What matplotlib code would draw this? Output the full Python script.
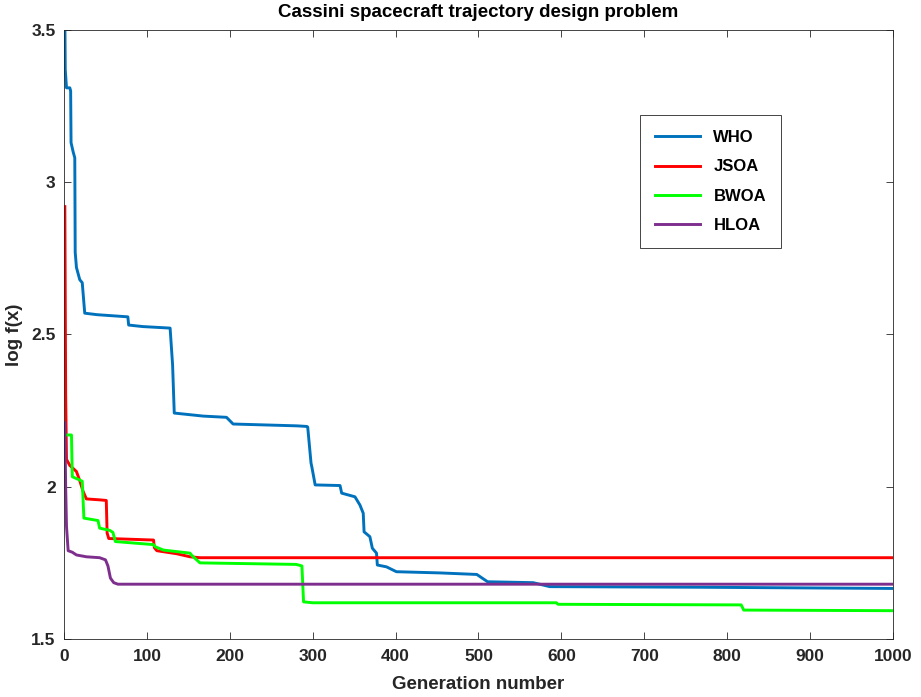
import numpy as np
import matplotlib.pyplot as plt

plt.rcParams['font.family'] = ['Liberation Sans', 'DejaVu Sans']
plt.rcParams['font.weight'] = 'bold'

# WHO
who_x = [1, 1.5, 3, 7, 8, 8.5, 11, 13, 13.5, 15, 19, 22, 25, 40, 77, 78, 95, 128, 131, 133,
         140, 168, 196, 204, 281, 293, 294, 298, 299, 303, 333, 335, 351, 357, 361, 362, 369,
         372, 377, 378, 389, 401, 454, 498, 511, 566, 586, 767, 1000]
who_y = [3.55, 3.37, 3.31, 3.31, 3.30, 3.13, 3.10, 3.08, 2.77, 2.72, 2.68, 2.67, 2.57, 2.565,
         2.558, 2.531, 2.526, 2.521, 2.40, 2.242, 2.240, 2.232, 2.228, 2.206, 2.200, 2.198,
         2.196, 2.078, 2.065, 2.006, 2.004, 1.979, 1.967, 1.940, 1.913, 1.852, 1.836, 1.798,
         1.782, 1.743, 1.737, 1.721, 1.717, 1.712, 1.688, 1.685, 1.672, 1.670, 1.666]

# JSOA
jsoa_x = [1, 2, 3, 7, 11, 15, 19, 23, 27, 43, 51, 52, 54, 108, 109, 112, 136, 152, 164, 1000]
jsoa_y = [2.92, 2.3, 2.09, 2.07, 2.06, 2.05, 2.02, 1.985, 1.96, 1.957, 1.955, 1.848, 1.83,
          1.825, 1.80, 1.79, 1.78, 1.77, 1.767, 1.767]

# BWOA
bwoa_x = [2, 9, 10, 19, 22, 24, 41, 43, 55, 59, 62, 108, 110, 120, 152, 154, 164, 280, 287,
          289, 300, 594, 596, 817, 820, 1000]
bwoa_y = [2.17, 2.17, 2.033, 2.022, 2.018, 1.897, 1.889, 1.864, 1.857, 1.85, 1.82, 1.81, 1.803,
          1.792, 1.782, 1.775, 1.75, 1.745, 1.74, 1.622, 1.619, 1.619, 1.614, 1.612, 1.595, 1.593]

# HLOA
hloa_x = [1, 2, 3, 5, 10, 15, 27, 43, 50, 53, 56, 60, 65, 1000]
hloa_y = [2.21, 2.0, 1.87, 1.79, 1.785, 1.776, 1.77, 1.767, 1.76, 1.74, 1.70, 1.685, 1.68, 1.68]

fig = plt.figure(figsize=(9.21, 6.97), dpi=100)
ax = fig.add_axes([0.0695, 0.0832, 0.9, 0.8738])

ax.plot(who_x, who_y, color='#0072BD', lw=2.1, label='WHO')
ax.plot(jsoa_x, jsoa_y, color='#FF0000', lw=2.1, label='JSOA')
ax.plot(bwoa_x, bwoa_y, color='#00FF00', lw=2.1, label='BWOA')
ax.plot(hloa_x, hloa_y, color='#7E2F8E', lw=2.1, label='HLOA')

ax.set_xlim(0, 1000)
ax.set_ylim(1.5, 3.5)
ax.set_xticks(np.arange(0, 1001, 100))
ax.set_yticks([1.5, 2, 2.5, 3, 3.5])
ax.set_yticklabels(['1.5', '2', '2.5', '3', '3.5'])
ax.tick_params(direction='in', top=True, right=True, labelsize=12.5, length=5,
               width=0.6, color='#262626', labelcolor='#262626')
ax.tick_params(axis='x', pad=7)
ax.tick_params(axis='y', pad=6)
for s in ax.spines.values():
    s.set_linewidth(0.6)
    s.set_color('#262626')

ax.set_title('Cassini spacecraft trajectory design problem', fontsize=13.5, fontweight='bold', pad=9)
ax.set_xlabel('Generation number', fontsize=13.5, fontweight='bold', labelpad=9, color='#262626')
ax.set_ylabel('log f(x)', fontsize=13.5, fontweight='bold', labelpad=6, color='#262626')

leg = ax.legend(loc='upper left', bbox_to_anchor=(0.695, 0.86), borderaxespad=0, fontsize=12,
                handlelength=2.7, labelspacing=0.85, borderpad=0.9, fancybox=False,
                framealpha=1, edgecolor='#262626')
leg.get_frame().set_linewidth(0.6)

fig.savefig('out.png', dpi=100)
